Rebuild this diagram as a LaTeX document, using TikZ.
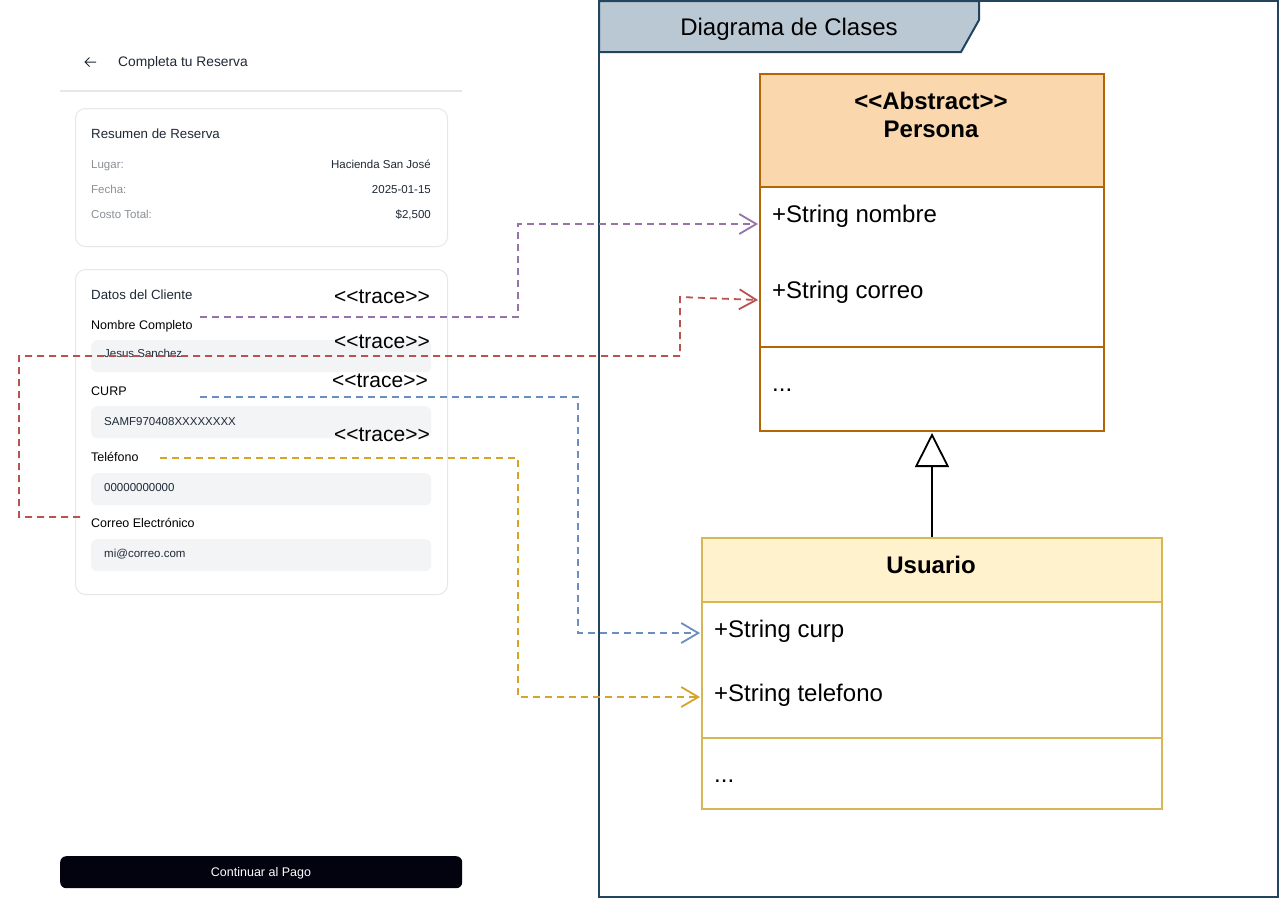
\documentclass[tikz,border=0pt]{standalone}
\usepackage{fontspec}
\setmainfont{Liberation Sans}[Ligatures=TeXOff]
\usetikzlibrary{arrows.meta}
\definecolor{cardline}{HTML}{E5E7EB}
\definecolor{fieldbg}{HTML}{F3F4F6}
\definecolor{greytxt}{HTML}{8A8F98}
\definecolor{darktxt}{HTML}{1F2937}
\definecolor{cpurple}{HTML}{9673A6}
\definecolor{cred}{HTML}{B85450}
\definecolor{cblue}{HTML}{6C8EBF}
\definecolor{cyellow}{HTML}{D4A52A}
\definecolor{perfill}{HTML}{FAD7AC}
\definecolor{perline}{HTML}{B46504}
\definecolor{usufill}{HTML}{FFF2CC}
\definecolor{usuline}{HTML}{D6B656}
\definecolor{frameline}{HTML}{23445D}
\definecolor{framefill}{HTML}{BAC8D3}
\definecolor{btnfill}{HTML}{03020F}
\tikzset{
  card/.style={draw=cardline, line width=1pt, rounded corners=10pt, fill=white, anchor=north west, inner sep=0pt},
  field/.style={fill=fieldbg, rounded corners=6pt, anchor=north west, minimum width=340, minimum height=32, inner sep=0pt},
  smalltxt/.style={font=\fontsize{11.5}{13}\selectfont, inner sep=0pt},
  fieldlbl/.style={font=\fontsize{12.5}{14}\selectfont, text=black, anchor=base west, inner sep=0pt},
  fieldtxt/.style={font=\fontsize{11.5}{13}\selectfont, text=darktxt, anchor=base west, inner sep=0pt},
  tracelbl/.style={font=\fontsize{21}{24}\selectfont, inner sep=0pt, anchor=base},
  trace/.style={line width=1.8pt, dash pattern=on 7pt off 5pt, -{Straight Barb[length=17pt,width=20pt,line width=1.8pt]}},
  umltxt/.style={font=\fontsize{24}{28}\selectfont, anchor=base west, inner sep=0pt},
  perbox/.style={draw=perline, line width=2pt, fill=white, anchor=north west, minimum width=344, inner sep=0pt},
  usubox/.style={draw=usuline, line width=2pt, fill=white, anchor=north west, minimum width=460, inner sep=0pt},
}
\begin{document}
\begin{tikzpicture}[x=1pt,y=-1pt]
\useasboundingbox (0,0) rectangle (1280,898);
\fill[white] (0,0) rectangle (1280,898);

% ---------- mockup ----------
\draw[line width=1pt, darktxt] (96,62) -- (85,62) (89.5,57.5) -- (85,62) -- (89.5,66.5);
\node[font=\fontsize{13.8}{16}\selectfont, text=darktxt, anchor=base west, inner sep=0pt] (title) at (118,66) {Completa tu Reserva};
\draw[cardline, line width=2pt] (60,91) -- (462,91);

\node[card, minimum width=372, minimum height=138] (card1) at (75,108) {};
\node[font=\fontsize{13.3}{15}\selectfont, text=darktxt, anchor=base west, inner sep=0pt] (resumen) at (91,138) {Resumen de Reserva};
\node[smalltxt, text=greytxt, anchor=base west] (lugar) at (91,168) {Lugar:};
\node[smalltxt, text=darktxt, anchor=base east] (lugarv) at (431,168) {Hacienda San José};
\node[smalltxt, text=greytxt, anchor=base west] (fecha) at (91,193) {Fecha:};
\node[smalltxt, text=darktxt, anchor=base east] (fechav) at (431,193) {2025-01-15};
\node[smalltxt, text=greytxt, anchor=base west] (costo) at (91,218) {Costo Total:};
\node[smalltxt, text=darktxt, anchor=base east] (costov) at (431,218) {\$2,500};

\node[card, minimum width=372, minimum height=325] (card2) at (75,269) {};
\node[font=\fontsize{13.3}{15}\selectfont, text=darktxt, anchor=base west, inner sep=0pt] (datos) at (91,299) {Datos del Cliente};

\node[fieldlbl] (lnombre) at (91,329) {Nombre Completo};
\node[field] (fnombre) at (91,340) {};
\node[fieldtxt] (tnombre) at (104,357) {Jesus Sanchez};

\node[fieldlbl] (lcurp) at (91,395) {CURP};
\node[field] (fcurp) at (91,406) {};
\node[fieldtxt] (tcurp) at (104,425) {SAMF970408XXXXXXXX};

\node[fieldlbl] (ltel) at (91,461) {Teléfono};
\node[field] (ftel) at (91,473) {};
\node[fieldtxt] (ttel) at (104,491) {00000000000};

\node[fieldlbl] (lcorreo) at (91,527) {Correo Electrónico};
\node[field] (fcorreo) at (91,539) {};
\node[fieldtxt] (tcorreo) at (104,557) {mi@correo.com};

\node[fill=btnfill, rounded corners=6pt, minimum width=402, minimum height=32, anchor=north west, inner sep=0pt] (btn) at (60,856) {};
\node[font=\fontsize{12.5}{14}\selectfont, text=white, inner sep=0pt, anchor=base] (btntxt) at (261,876.5) {Continuar al Pago};

% ---------- frame ----------
\draw[frameline, line width=2pt, fill=white] (599,1) rectangle (1278,897);
\draw[frameline, line width=2pt, fill=framefill] (599,1) -- (979,1) -- (979,20) -- (961,52) -- (599,52) -- cycle;
\node[font=\fontsize{24}{28}\selectfont, inner sep=0pt, anchor=base] (frametitle) at (789,35.5) {Diagrama de Clases};

% ---------- Persona ----------
\node[perbox, fill=perfill, minimum height=113] (perhead) at (759,73) {};
\node[perbox, minimum height=160] (perattr) at (759,186) {};
\node[perbox, minimum height=84] (permeth) at (759,346) {};
\node[font=\bfseries\fontsize{24}{28}\selectfont, align=center, inner sep=0pt] (pertitle) at (931,115) {<<Abstract>>\\Persona};
\node[umltxt] (nombre) at (772,222.5) {+String nombre};
\node[umltxt] (correo) at (772,298.5) {+String correo};
\node[umltxt] (perdots) at (772,391) {...};

% ---------- Usuario ----------
\node[usubox, fill=usufill, minimum height=64] (usuhead) at (701,537) {};
\node[usubox, minimum height=136] (usuattr) at (701,601) {};
\node[usubox, minimum height=71] (usumeth) at (701,737) {};
\node[font=\bfseries\fontsize{24}{28}\selectfont, inner sep=0pt, anchor=base] (usutitle) at (931,573.5) {Usuario};
\node[umltxt] (curp) at (714,637.5) {+String curp};
\node[umltxt] (telefono) at (714,701.5) {+String telefono};
\node[umltxt] (usudots) at (714,782) {...};

% inheritance
\draw[line width=2pt, -{Triangle[open, length=34pt, width=34pt, line width=1.8pt, fill=white]}] (usuhead.north) -- ([yshift=-1pt]permeth.south);

% ---------- trace labels ----------
\node[tracelbl] (tr1) at (382,303.5) {<<trace>>};
\node[tracelbl] (tr2) at (382,348.5) {<<trace>>};
\node[tracelbl] (tr3) at (380,387.5) {<<trace>>};
\node[tracelbl] (tr4) at (382,441.5) {<<trace>>};

% ---------- trace connectors ----------
\coordinate (s1) at (200,317);
\coordinate (s2) at (80,517);
\coordinate (s3) at (200,397);
\coordinate (s4) at (160,458);
\coordinate (e1) at (758,224);
\coordinate (e2) at (758,300);
\coordinate (e3) at (700,633);
\coordinate (e4) at (700,697);
\draw[trace, cpurple] (s1) -- (518,317) -- (518,224) -- (e1);
\draw[trace, cred] (s2) -- (19,517) -- (19,356) -- (680,356) -- (680,297) -- (e2);
\draw[trace, cblue] (s3) -- (578,397) -- (578,633) -- (e3);
\draw[trace, cyellow] (s4) -- (518,458) -- (518,697) -- (e4);
\end{tikzpicture}
\end{document}
